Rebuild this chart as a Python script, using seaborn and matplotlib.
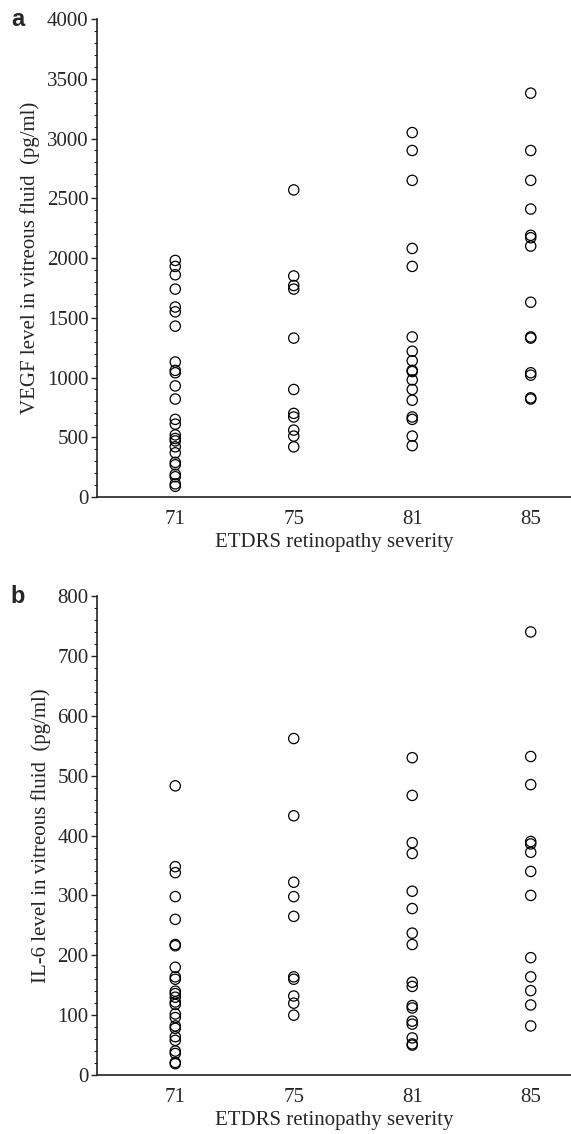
import matplotlib

matplotlib.use("Agg")
import matplotlib.pyplot as plt
import pandas as pd
import seaborn as sns
from matplotlib.ticker import MultipleLocator

SEVERITY = ["71", "75", "81", "85"]

VEGF_71 = [1980, 1930, 1860, 1740, 1590, 1550, 1430, 1130, 1060, 1040, 930, 820, 650,
           610, 520, 490, 470, 420, 370, 290, 270, 190, 170, 110, 90]
VEGF_75 = [2570, 1850, 1770, 1740, 1330, 900, 700, 670, 560, 510, 420]
VEGF_81 = [3050, 2900, 2650, 2080, 1930, 1340, 1220, 1140, 1060, 1050, 980, 900, 810,
           670, 650, 510, 430]
VEGF_85 = [3380, 2900, 2650, 2410, 2190, 2170, 2100, 1630, 1340, 1330, 1040, 1020, 830, 820]

IL6_71 = [483, 348, 338, 298, 260, 218, 216, 180, 164, 160, 140, 136, 130, 122, 118, 102,
          96, 82, 78, 64, 58, 40, 36, 21, 19]
IL6_75 = [562, 433, 322, 298, 265, 164, 160, 132, 120, 100]
IL6_81 = [530, 467, 388, 370, 307, 278, 237, 218, 155, 148, 116, 112, 90, 85, 62, 52, 50]
IL6_85 = [740, 532, 485, 390, 386, 372, 340, 300, 196, 164, 141, 117, 82]


def long_frame(groups):
    rows = []
    for severity, values in zip(SEVERITY, groups):
        rows += [{"severity": severity, "level": v} for v in values]
    return pd.DataFrame(rows)


def draw_panel(ax, frame, ylabel, ymax, major, minor, letter):
    sns.stripplot(data=frame, x="severity", y="level", order=SEVERITY, jitter=False,
                  size=7.4, marker="o", color="black", ax=ax)
    for coll in ax.collections:
        coll.set_facecolor("none")
        coll.set_edgecolor("black")
        coll.set_linewidth(0.9)
    ax.set_xlim(-0.66, 3.34)
    ax.set_ylim(0, ymax)
    ax.yaxis.set_major_locator(MultipleLocator(major))
    ax.yaxis.set_minor_locator(MultipleLocator(minor))
    ax.tick_params(axis="y", which="major", length=4, width=1, pad=2, labelsize=15)
    ax.tick_params(axis="y", which="minor", length=2, width=0.8)
    ax.tick_params(axis="x", length=0, pad=9, labelsize=15)
    ax.set_xlabel("ETDRS retinopathy severity", fontsize=15, labelpad=3)
    ax.set_ylabel(ylabel, fontsize=15, labelpad=5)
    for side in ["top", "right"]:
        ax.spines[side].set_visible(False)
    for side in ["left", "bottom"]:
        ax.spines[side].set_linewidth(1.2)
        ax.spines[side].set_color("#222222")
    ax.text(-0.182, 1.0, letter, transform=ax.transAxes, fontsize=17, fontweight="bold",
            family="Liberation Sans", ha="left", va="center")


sns.set_theme(style="ticks")
plt.rcParams["font.family"] = ["Liberation Serif", "DejaVu Serif"]

fig = plt.figure(figsize=(5.71, 11.34), dpi=100)
ax_a = fig.add_axes([0.170, 0.5617, 0.830, 0.4215])
ax_b = fig.add_axes([0.170, 0.0520, 0.830, 0.4224])

draw_panel(ax_a, long_frame([VEGF_71, VEGF_75, VEGF_81, VEGF_85]),
           "VEGF level in vitreous fluid  (pg/ml)", 4000, 500, 100, "a")
draw_panel(ax_b, long_frame([IL6_71, IL6_75, IL6_81, IL6_85]),
           "IL-6 level in vitreous fluid  (pg/ml)", 800, 100, 20, "b")

fig.savefig("out.png", dpi=100)
plt.close(fig)
